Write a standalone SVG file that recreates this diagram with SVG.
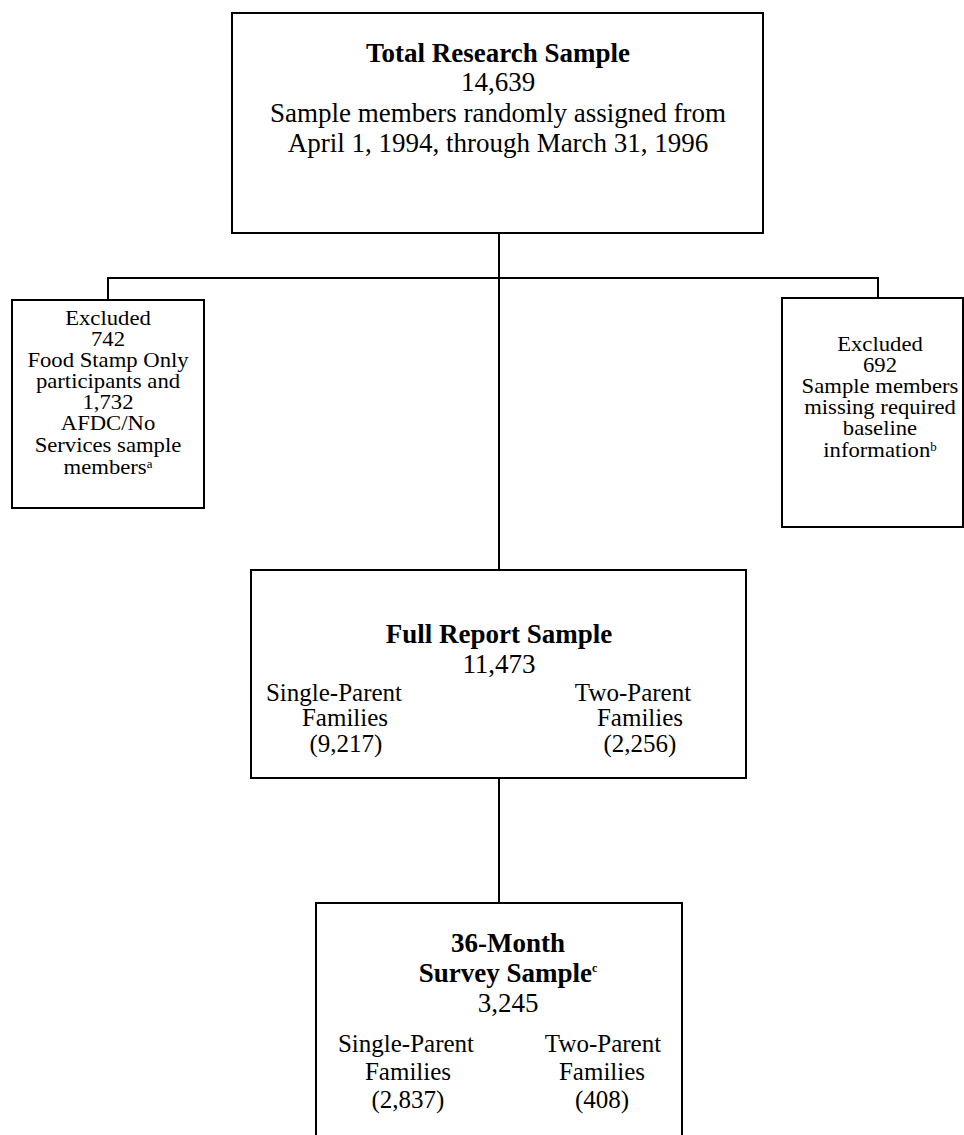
<svg xmlns="http://www.w3.org/2000/svg" width="964" height="1135" viewBox="0 0 964 1135">
<style>
.box{fill:#fff;stroke:#000;stroke-width:2}
.ln{stroke:#000;stroke-width:2;fill:none}
text{font-family:"Liberation Serif","Times New Roman",serif;fill:#000;text-anchor:middle}
.b{font-weight:bold}
.l{font-size:27px}
.m{font-size:25px}
.s{font-size:21px}
.sup{font-size:12px}
</style>
<rect width="964" height="1135" fill="#fff"/>
<g id="connectors">
<line class="ln" x1="499" y1="233" x2="499" y2="570"/>
<polyline class="ln" points="108,300 108,278 878,278 878,298"/>
<line class="ln" x1="499" y1="778" x2="499" y2="903"/>
</g>
<g id="total">
<rect class="box" x="232" y="13" width="531" height="220"/>
<text class="l b" x="498" y="62">Total Research Sample</text>
<text class="l" x="498" y="91">14,639</text>
<text class="l" x="498" y="122">Sample members randomly assigned from</text>
<text class="l" x="498" y="152">April 1, 1994, through March 31, 1996</text>
</g>
<g id="excluded-left">
<rect class="box" x="12" y="300" width="192" height="208"/>
<g transform="matrix(1.08 0 0 1 -8.64 0)">
<text class="s" x="108" y="325">Excluded</text>
<text class="s" x="108" y="346">742</text>
<text class="s" x="108" y="367">Food Stamp Only</text>
<text class="s" x="108" y="388">participants and</text>
<text class="s" x="108" y="409">1,732</text>
<text class="s" x="108" y="430">AFDC/No</text>
<text class="s" x="108" y="452">Services sample</text>
<text class="s" x="108" y="474">members<tspan class="sup" dy="-6">a</tspan></text>
</g>
</g>
<g id="excluded-right">
<rect class="box" x="782" y="298" width="181" height="229"/>
<g transform="matrix(1.08 0 0 1 -70.4 0)">
<text class="s" x="880" y="351">Excluded</text>
<text class="s" x="880" y="372">692</text>
<text class="s" x="880" y="393">Sample members</text>
<text class="s" x="880" y="414">missing required</text>
<text class="s" x="880" y="435">baseline</text>
<text class="s" x="880" y="457">information<tspan class="sup" dy="-6">b</tspan></text>
</g>
</g>
<g id="full-report">
<rect class="box" x="251" y="570" width="495" height="208"/>
<text class="l b" x="499" y="643">Full Report Sample</text>
<text class="l" x="499" y="673">11,473</text>
<text class="m" x="334" y="701">Single-Parent</text>
<text class="m" x="345" y="726">Families</text>
<text class="m" x="346" y="752">(9,217)</text>
<text class="m" x="633" y="701">Two-Parent</text>
<text class="m" x="640" y="726">Families</text>
<text class="m" x="640" y="752">(2,256)</text>
</g>
<g id="survey">
<rect class="box" x="316" y="903" width="366" height="250"/>
<text class="l b" x="508" y="952">36-Month</text>
<text class="l b" x="508" y="982">Survey Sample<tspan class="sup" dy="-10">c</tspan></text>
<text class="l" x="508" y="1012">3,245</text>
<text class="m" x="406" y="1052">Single-Parent</text>
<text class="m" x="408" y="1080">Families</text>
<text class="m" x="408" y="1108">(2,837)</text>
<text class="m" x="603" y="1052">Two-Parent</text>
<text class="m" x="602" y="1080">Families</text>
<text class="m" x="602" y="1108">(408)</text>
</g>
</svg>
